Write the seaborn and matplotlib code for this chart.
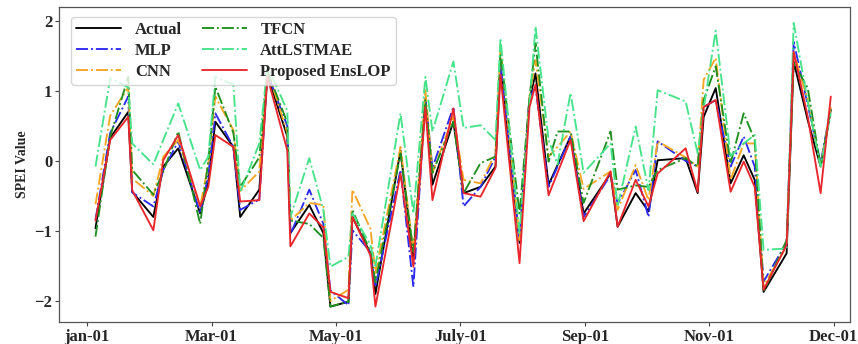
import numpy as np
import pandas as pd
import matplotlib
matplotlib.use("Agg")
import matplotlib.pyplot as plt
import seaborn as sns

# x positions (day index within the year)
days = [4, 11.1, 19.8, 21.7, 31.9, 36.7, 43.9, 54.5, 58.4, 61.8,
        70.5, 73.8, 83.0, 86.9, 96.5, 98.0, 107.1, 113.9, 117.3, 126.0,
        127.9, 136.6, 139.0, 151.1, 157.3, 163.1, 166.5, 176.6, 181.5, 189.7,
        196.9, 199.3, 208.5, 213.3, 216.2, 222.5, 226.8, 233.1, 239.4, 252.4,
        255.8, 264.5, 270.7, 275.1, 288.6, 294.4, 297.3, 303.1, 310.3, 316.6,
        321.9, 326.2, 337.3, 340.7, 347.5, 353.7, 358.6]

actual = [-0.96, 0.33, 0.70, -0.44, -0.80, -0.08, 0.18, -0.75, -0.30, 0.56,
          0.20, -0.80, -0.41, 1.23, 0.35, -1.03, -0.63, -1.03, -2.08, -2.01,
          -0.80, -1.32, -1.90, 0.15, -1.41, 0.87, -0.34, 0.56, -0.46, -0.37,
          -0.08, 1.35, -1.17, 0.87, 1.25, -0.34, -0.06, 0.35, -0.75, -0.18,
          -0.94, -0.46, -0.72, 0.01, 0.04, -0.46, 0.63, 1.04, -0.32, 0.08,
          -0.27, -1.87, -1.32, 1.42, 0.58, -0.08, 0.73]

mlp = [-0.84, 0.40, 0.92, -0.45, -0.65, -0.13, 0.28, -0.75, -0.20, 0.68,
       0.20, -0.70, -0.55, 1.25, 0.50, -1.05, -0.41, -0.90, -1.85, -2.06,
       -0.99, -1.30, -1.80, -0.13, -1.80, 0.90, -0.10, 0.77, -0.65, -0.37,
       0.06, 1.40, -1.13, 0.92, 1.05, -0.37, -0.08, 0.35, -0.80, -0.20,
       -0.61, -0.13, -0.80, 0.28, 0.00, -0.08, 0.77, 0.87, -0.08, 0.35,
       -0.08, -1.72, -1.17, 1.70, 0.80, -0.04, 0.77]

cnn = [-0.62, 0.65, 1.05, -0.25, -0.50, 0.06, 0.30, -0.65, -0.05, 0.92,
       0.44, -0.43, -0.15, 1.30, 0.40, -0.85, -0.60, -0.63, -2.00, -1.84,
       -0.41, -0.97, -1.60, 0.20, -1.30, 1.01, -0.17, 0.64, -0.27, -0.32,
       0.11, 1.63, -1.13, 0.92, 1.44, 0.06, 0.20, 0.42, -0.40, -0.15,
       -0.70, -0.06, -0.56, 0.28, 0.05, -0.08, 1.16, 1.47, -0.27, 0.25,
       0.25, -1.78, -1.22, 1.55, 0.87, -0.08, 0.77]

tfcn = [-1.08, 0.35, 1.20, -0.13, -0.48, -0.15, 0.42, -0.90, 0.00, 1.06,
        0.40, -0.37, 0.05, 1.28, 0.55, -0.85, -0.90, -1.10, -2.08, -2.01,
        -0.70, -1.30, -1.73, 0.11, -1.30, 0.87, -0.17, 0.56, -0.46, -0.03,
        0.06, 1.54, -0.75, 0.90, 1.68, -0.01, 0.42, 0.42, -0.60, 0.42,
        -0.41, -0.35, -0.37, -0.13, 0.04, -0.08, 0.87, 1.35, -0.03, 0.68,
        0.30, -1.87, -1.13, 1.40, 1.04, -0.08, 0.73]

attlstmae = [-0.08, 1.18, 1.05, 0.25, -0.05, 0.30, 0.82, -0.13, 0.06, 1.20,
             1.09, -0.45, 0.25, 1.35, 0.72, -0.80, 0.04, -0.70, -1.51, -1.37,
             -0.75, -1.20, -1.50, 0.68, -0.75, 1.20, 0.42, 1.42, 0.47, 0.51,
             0.30, 1.75, -1.03, 0.80, 1.92, 0.30, -0.05, 0.97, -0.17, 0.25,
             -0.65, 0.49, -0.42, 1.01, 0.85, 0.11, 0.75, 1.86, 0.07, 0.25,
             0.37, -1.27, -1.25, 1.97, 0.85, -0.08, 0.68]

enslop = [-0.85, 0.30, 0.63, -0.42, -0.99, 0.01, 0.37, -0.65, -0.37, 0.37,
          0.20, -0.58, -0.56, 1.20, 0.15, -1.22, -0.75, -0.95, -1.87, -1.96,
          -0.80, -1.35, -2.08, -0.18, -1.51, 0.77, -0.56, 0.75, -0.46, -0.51,
          -0.10, 1.23, -1.46, 0.77, 1.09, -0.49, -0.17, 0.30, -0.86, -0.15,
          -0.94, -0.27, -0.65, -0.18, 0.18, -0.44, 0.77, 0.87, -0.44, -0.01,
          -0.37, -1.84, -1.20, 1.56, 0.63, -0.46, 0.92]

series_names = ["Actual", "MLP", "CNN", "TFCN", "AttLSTMAE", "Proposed EnsLOP"]
tick_days = [0, 60, 120, 180, 240, 300, 360]
tick_labels = ["jan-01", "Mar-01", "May-01", "July-01", "Sep-01", "Nov-01", "Dec-01"]

colors = ["black", "#2b2bf0", "#f5a623", "#1f8f1f", "#45e38a", "#e8262b"]
styles = ["-", "-.", "-.", "-.", "-.", "-"]

sns.set_theme(style="white")
plt.rcParams["font.family"] = ["Liberation Serif", "DejaVu Serif"]
plt.rcParams["axes.unicode_minus"] = True

fig = plt.figure(figsize=(8.58, 3.44), dpi=100)
ax = fig.add_axes([0.069, 0.064, 0.922, 0.916])

data = [actual, mlp, cnn, tfcn, attlstmae, enslop]
for name, vals, c, ls in zip(series_names, data, colors, styles):
    sns.lineplot(x=days, y=vals, ax=ax, color=c, linestyle=ls, linewidth=1.35,
                 label=name)

ax.set_xlim(-13.5, 368)
ax.set_ylim(-2.3, 2.2)
ax.set_xticks(tick_days)
ax.set_xticklabels(tick_labels)
ax.set_yticks([-2, -1, 0, 1, 2])
ax.set_ylabel("SPEI Value", fontsize=10, fontweight="bold", labelpad=4)
ax.set_xlabel("")
for lab in ax.get_xticklabels() + ax.get_yticklabels():
    lab.set_fontweight("bold")
    lab.set_fontsize(12)
ax.tick_params(axis="both", direction="out", length=3, width=0.8, color="#444444",
               pad=2, bottom=True, left=True)
for s in ax.spines.values():
    s.set_color("#555555")
    s.set_linewidth(0.9)

leg = ax.legend(loc="upper left", ncol=2, frameon=True,
                prop={"weight": "bold", "size": 12, "family": "Liberation Serif"},
                handlelength=2.7, columnspacing=1.2, borderpad=0.3,
                labelspacing=0.3, handletextpad=0.8,
                bbox_to_anchor=(0.005, 0.995))
leg.get_frame().set_edgecolor("#cccccc")

fig.savefig("out.png", dpi=100)
